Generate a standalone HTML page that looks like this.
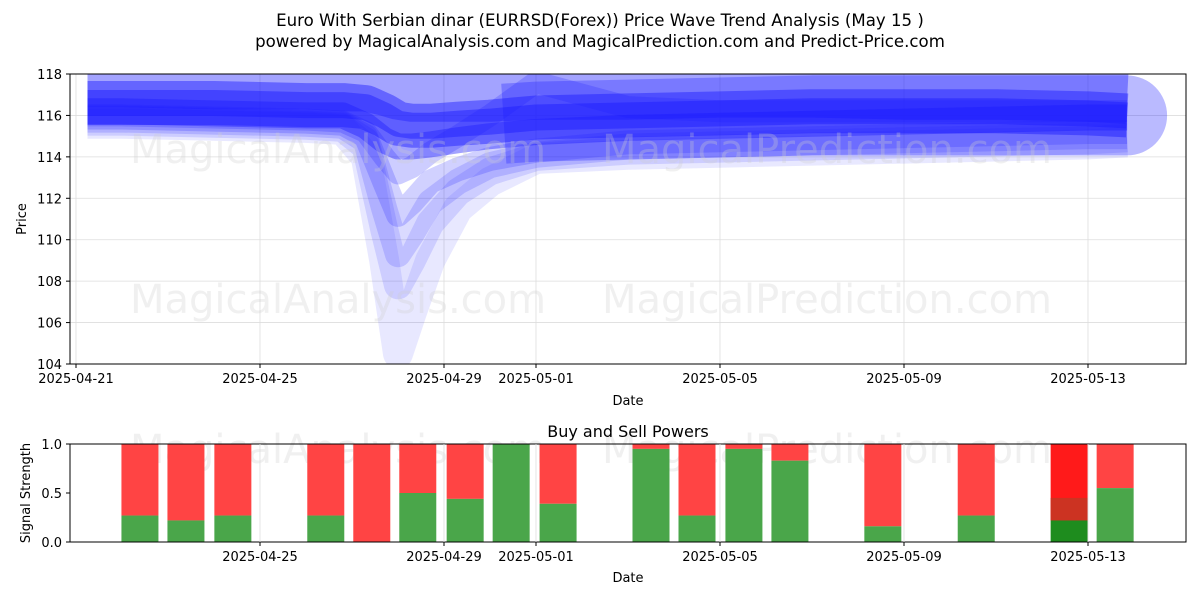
<!DOCTYPE html>
<html><head><meta charset="utf-8"><style>
body{margin:0;background:#fff;width:1200px;height:600px;overflow:hidden;font-family:"Liberation Sans","DejaVu Sans",sans-serif}
svg text{font-family:"DejaVu Sans","Liberation Sans",sans-serif}
</style></head><body>
<svg id="c" width="1200" height="600" xmlns="http://www.w3.org/2000/svg">
<text x="600" y="26" text-anchor="middle" font-size="16.6">Euro With Serbian dinar (EURRSD(Forex)) Price Wave Trend Analysis (May 15 )</text>
<text x="600" y="47" text-anchor="middle" font-size="16.6">powered by MagicalAnalysis.com and MagicalPrediction.com and Predict-Price.com</text>
<defs><clipPath id="cp1"><rect x="70" y="74" width="1116" height="290"/></clipPath></defs>
<g id="grid1"></g>
<g id="waves" clip-path="url(#cp1)"></g>
<g fill="#ccc" fill-opacity="0.3" font-size="40">
<text x="130" y="163">MagicalAnalysis.com</text><text x="602" y="163">MagicalPrediction.com</text>
<text x="130" y="313">MagicalAnalysis.com</text><text x="602" y="313">MagicalPrediction.com</text>
<text x="130" y="463">MagicalAnalysis.com</text><text x="602" y="463">MagicalPrediction.com</text>
</g>
<rect x="70" y="74" width="1116" height="290" fill="none" stroke="#000"/>
<g id="ax1"></g>
<text x="628" y="405" text-anchor="middle" font-size="13">Date</text>
<text x="26" y="219" text-anchor="middle" font-size="13" transform="rotate(-90 26 219)">Price</text>
<text x="628" y="437" text-anchor="middle" font-size="16">Buy and Sell Powers</text>
<g id="bars"></g>
<rect x="70" y="444" width="1116" height="98" fill="none" stroke="#000"/>
<g id="ax2"></g>
<text x="628" y="582" text-anchor="middle" font-size="13">Date</text>
<text x="30" y="493" text-anchor="middle" font-size="13" transform="rotate(-90 30 493)">Signal Strength</text>
</svg>
<script>
const xTickDays=[0,4,8,10,14,18,22];
const xTickLabels=["2025-04-21","2025-04-25","2025-04-29","2025-05-01","2025-05-05","2025-05-09","2025-05-13"];
const yTicks=[104,106,108,110,112,114,116,118];
const waveDays=[0.25,1,3,5,5.8,6.3,6.7,7.0,7.3,7.7,8.3,9,10,12,14,16,18,20,22,22.85];
const waveB=[117.6,117.6,117.5,117.5,117.4,117.4,117.2,117.0,116.9,116.9,116.9,116.9,117.0,117.0,117.1,117.1,117.0,117.0,116.9,116.8];
const waveA=[116.6,116.6,116.6,116.5,116.5,116.4,116.0,115.6,115.5,115.5,115.6,115.7,115.9,116.0,116.1,116.2,116.2,116.2,116.1,116.0];
const waveC=[116.2,116.2,116.1,116.0,116.0,115.5,114.8,114.5,114.5,114.6,114.8,115.0,115.2,115.4,115.5,115.6,115.7,115.8,115.9,115.9];
const waveD=[115.6,115.6,115.5,115.4,115.3,114.0,109.0,104.5,106.5,109.0,111.5,112.8,113.9,114.1,114.2,114.3,114.4,114.5,114.6,114.7];
const waveE=[115.7,115.7,115.6,115.5,115.4,114.5,110.5,107.8,109.0,110.8,112.3,113.3,114.0,114.3,114.4,114.5,114.6,114.7,114.8,114.9];
const waveF=[115.8,115.8,115.7,115.6,115.5,114.8,111.5,109.3,110.3,111.8,112.8,113.6,114.1,114.5,114.6,114.7,114.8,114.9,115.0,115.0];
const waveG=[115.9,115.9,115.8,115.7,115.6,115.0,112.8,111.2,111.8,112.8,113.4,113.9,114.3,114.7,114.8,114.9,115.0,115.1,115.2,115.2];
const waveH=[116.0,116.0,115.9,115.8,115.7,115.2,114.0,113.2,113.5,114.2,115.0,116.0,117.6,116.4,116.2,116.2,116.2,116.2,116.2,116.2];
const envDays=[9.3,10,12,14,16,18,20,22,22.85];
const envVals=[115.6,115.7,115.8,115.9,116.0,116.0,116.0,116.0,116.0];
const barDays=[1.39,2.39,3.41,5.43,6.43,7.43,8.46,9.46,10.48,12.5,13.5,14.52,15.52,17.54,19.57,21.59,22.59];
const buyVals=[0.27,0.22,0.27,0.27,0,0.5,0.44,1.0,0.39,0.95,0.27,0.95,0.83,0.16,0.27,0.22,0.55];
const ns="http://www.w3.org/2000/svg";
const X=d=>76+d*46.0;
const Y=v=>364-(v-104)*290/14;
const Y2=v=>542-v*98;
function el(t,a,p){const e=document.createElementNS(ns,t);for(const k in a)e.setAttribute(k,a[k]);p.appendChild(e);return e;}
const g1=document.getElementById('grid1'),ax1=document.getElementById('ax1'),ax2=document.getElementById('ax2');
xTickDays.forEach((d,i)=>{
 const gl=el('line',{x1:X(d),x2:X(d),y1:74,y2:364,stroke:'#ddd','stroke-width':0.8},g1);
 
 el('line',{x1:X(d),x2:X(d),y1:364,y2:368,stroke:'#000'},ax1);
 const t=el('text',{x:X(d),y:383,'text-anchor':'middle','font-size':13},ax1);t.textContent=xTickLabels[i];
 
 if(i>0){
 el('line',{x1:X(d),x2:X(d),y1:444,y2:542,stroke:'#ddd','stroke-width':0.8},ax2);
 el('line',{x1:X(d),x2:X(d),y1:542,y2:546,stroke:'#000'},ax2);
 const t2=el('text',{x:X(d),y:561,'text-anchor':'middle','font-size':13},ax2);t2.textContent=xTickLabels[i];
 }
});
yTicks.forEach(v=>{
 el('line',{x1:70,x2:1186,y1:Y(v),y2:Y(v),stroke:'#ddd','stroke-width':0.8},g1);
 el('line',{x1:66,x2:70,y1:Y(v),y2:Y(v),stroke:'#000'},ax1);
 const t=el('text',{x:62,y:Y(v)+5,'text-anchor':'end','font-size':13},ax1);t.textContent=v;
 
});
[0,0.5,1].forEach(v=>{
 el('line',{x1:66,x2:70,y1:Y2(v),y2:Y2(v),stroke:'#000'},ax2);
 const t=el('text',{x:62,y:Y2(v)+5,'text-anchor':'end','font-size':13},ax2);t.textContent=v.toFixed(1);
 
});
const wv=document.getElementById('waves');
const env=el('polyline',{points:envDays.map((d,j)=>X(d)+','+Y(envVals[j])).join(' '),fill:'none',stroke:'#1a1aff','stroke-opacity':0.3,'stroke-width':80,'stroke-linecap':'butt','stroke-linejoin':'round'},wv);


const ne=envDays.length-1;
const cap=el('path',{d:`M${X(envDays[ne])},${Y(envVals[ne])-40} a40,40 0 0 1 0,80 z`,fill:'#1a1aff','fill-opacity':0.3},wv);


const waves=[[waveB,50,0.4],[waveA,44,0.45],[waveD,30,0.1],[waveE,28,0.13],[waveF,26,0.16],[waveG,24,0.2],[waveH,22,0.22],[waveC,26,0.4],[waveA,26,0.45]];
waves.forEach((w,i)=>{
 const p=el('polyline',{points:waveDays.map((d,j)=>X(d)+','+Y(w[0][j])).join(' '),fill:'none',stroke:'#1a1aff','stroke-opacity':w[2],'stroke-width':w[1],'stroke-linecap':'butt','stroke-linejoin':'round'},wv);
 
 
});
const bg=document.getElementById('bars');
barDays.forEach((d,i)=>{
 const x=X(d)-18.5,b=buyVals[i];
 const hot=(i===15);
 const r=el('rect',{x:x,y:Y2(1),width:37,height:Y2(b)-Y2(1),fill:hot?'#ff1a1a':'#ff4444'},bg);
 
 if(hot){const m=el('rect',{x:x,y:Y2(0.45),width:37,height:Y2(b)-Y2(0.45),fill:'#cc3322'},bg);
  }
 const gr=el('rect',{x:x,y:Y2(b),width:37,height:542-Y2(b),fill:hot?'#1e8c1e':'#4aa64a'},bg);
 
});
</script>
</body></html>
